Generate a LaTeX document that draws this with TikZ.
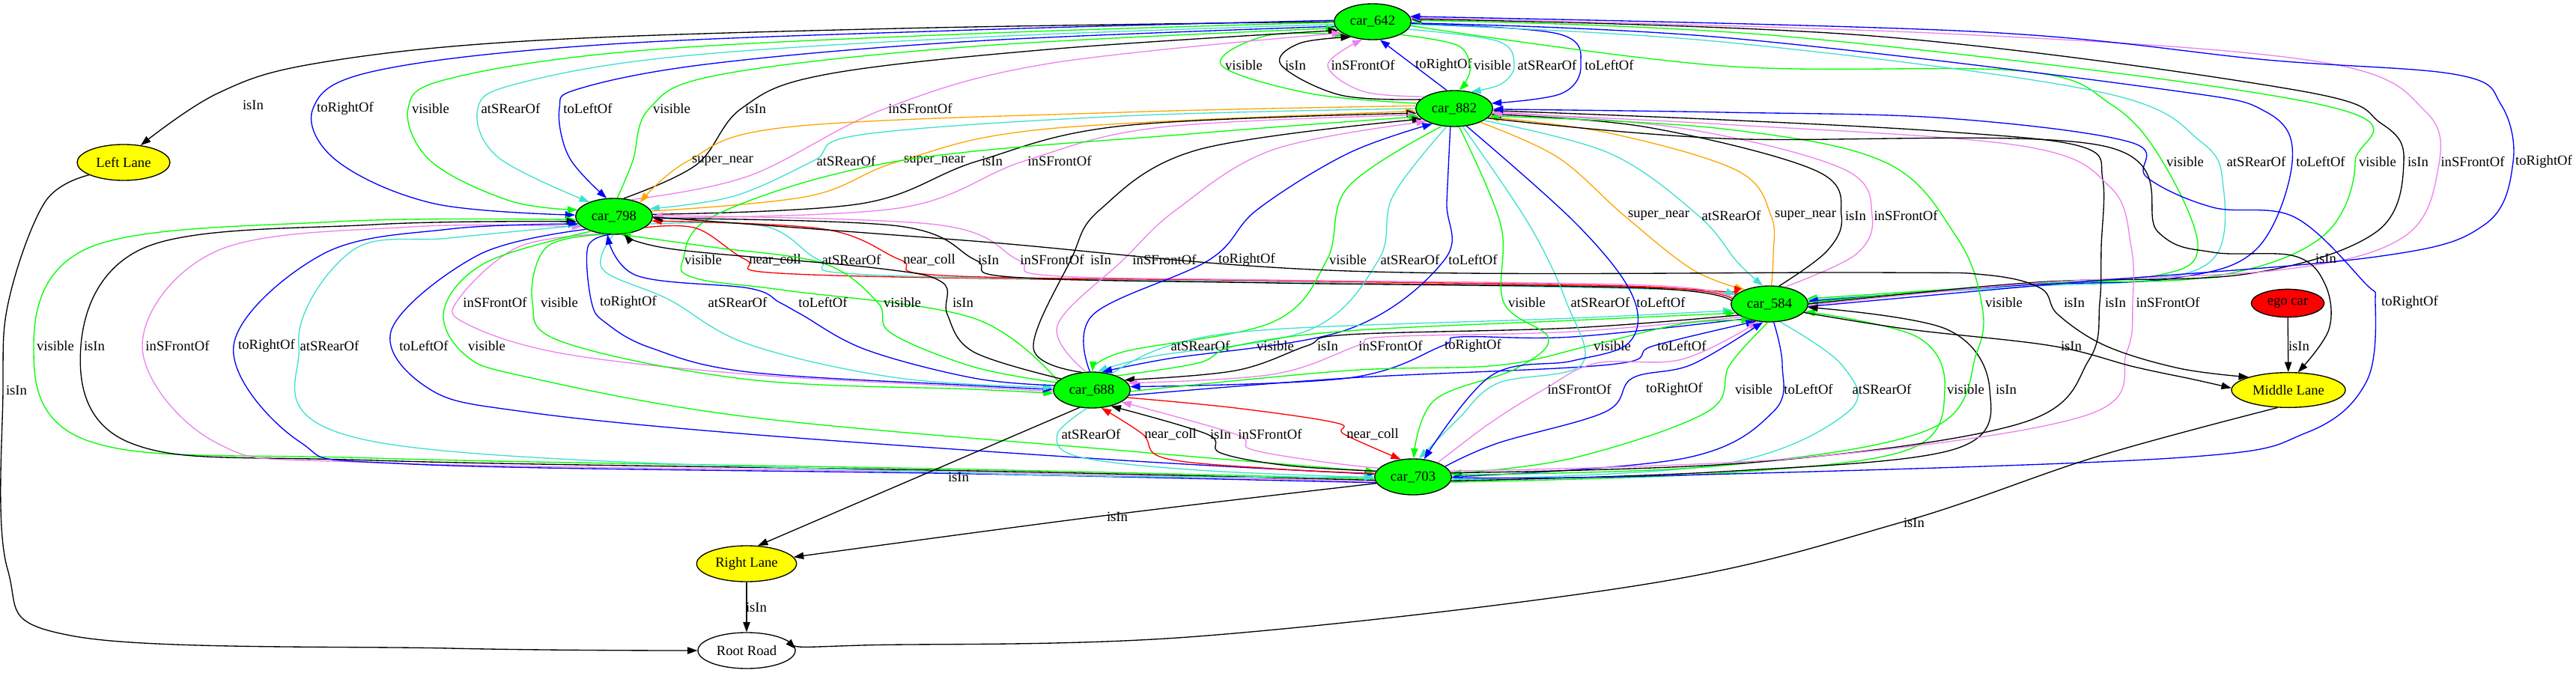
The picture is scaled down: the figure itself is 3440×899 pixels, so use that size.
\documentclass[tikz,border=0pt]{standalone}
\usepackage{fontspec}
\setmainfont{Liberation Serif}
\usetikzlibrary{shapes.geometric,arrows.meta}
\definecolor{gvgreen}{HTML}{00FF00}
\definecolor{gvturq}{HTML}{40E0D0}
\definecolor{gvviolet}{HTML}{EE82EE}
\definecolor{gvorange}{HTML}{FFA500}
\definecolor{gvblue}{HTML}{0000FF}
\definecolor{gvred}{HTML}{FF0000}
\definecolor{gvyellow}{HTML}{FFFF00}
\begin{document}
\begin{tikzpicture}[x=0.75pt,y=-0.75pt,font=\fontsize{14pt}{16pt}\selectfont,
  gnode/.style={ellipse,draw,line width=1pt,inner sep=0pt},
  car/.style={gnode,fill=gvgreen,minimum width=77pt,minimum height=36pt},
  lane/.style={gnode,fill=gvyellow,minimum height=36pt},
  lbl/.style={inner sep=0pt},
  ed/.style={line width=1pt,-{Triangle[length=10pt,width=7pt]}}]
\useasboundingbox (0,0) rectangle (3440,899);
% nodes
\node[car] (c642) at (1833,29) {car\_642};
\node[car] (c882) at (1942,145) {car\_882};
\node[car] (c798) at (820,289) {car\_798};
\node[car] (c584) at (2363,406) {car\_584};
\node[car] (c688) at (1458,521) {car\_688};
\node[car] (c703) at (1887,637) {car\_703};
\node[gnode,fill=gvred,minimum width=73pt,minimum height=28pt] (ego) at (3055,405) {ego car};
\node[lane,minimum width=114pt,minimum height=35pt] (ML) at (3056,521) {Middle Lane};
\node[lane,minimum width=93pt] (LL) at (165,217) {Left Lane};
\node[lane,minimum width=100pt] (RL) at (997,753) {Right Lane};
\node[gnode,fill=white,minimum width=97.5pt,minimum height=36pt] (RR) at (997,869) {Root Road};
% 642 -> Left Lane
\draw[ed] plot[smooth,tension=0.6] coordinates {(c642.180) (1200,38) (700,55) (420,85) (290,125) (LL.45)};
\node[lbl] (t01) at (338,140) {isIn};
% 642 <-> 882
\draw[ed,gvgreen] plot[smooth,tension=0.6] coordinates {(c882.172) (1750,125) (1631,87) (1690,48) (c642.205)};
\node[lbl] (t02) at (1661,87) {visible};
\draw[ed] plot[smooth,tension=0.6] coordinates {(c882.165) (1790,127) (1711,87) (1735,58) (c642.215)};
\node[lbl] (t03) at (1730,87) {isIn};
\draw[ed,gvviolet] plot[smooth,tension=0.6] coordinates {(c882.158) (1820,122) (1773,87) (c642.240)};
\node[lbl] (t04) at (1820,87) {inSFrontOf};
\draw[ed,gvblue] (c882.112) -- (c642.292);
\node[lbl] (t05) at (1928,87) {toRightOf};
\draw[ed,gvgreen] plot[smooth,tension=0.6] coordinates {(c642.-25) (1945,60) (1963,87) (1958,108) (c882.75)};
\node[lbl] (t06) at (1993,87) {visible};
\draw[ed,gvturq] plot[smooth,tension=0.6] coordinates {(c642.-12) (2000,55) (2022,87) (2005,112) (c882.45)};
\node[lbl] (t07) at (2066,87) {atSRearOf};
\draw[ed,gvblue] plot[smooth,tension=0.6] coordinates {(c642.-3) (2080,45) (2111,87) (2085,125) (c882.8)};
\node[lbl] (t08) at (2149,87) {toLeftOf};
% 642 <-> 798
\draw[ed,gvblue] plot[smooth,tension=0.6] coordinates {(c642.178) (1300,40) (800,60) (500,95) (418,145) (450,215) (580,272) (c798.178)};
\node[lbl] (t09) at (461,145) {toRightOf};
\draw[ed,gvgreen] plot[smooth,tension=0.6] coordinates {(c642.181) (1300,45) (850,68) (600,105) (545,145) (575,215) (680,268) (c798.170)};
\node[lbl] (t10) at (575,145) {visible};
\draw[ed,gvturq] plot[smooth,tension=0.6] coordinates {(c642.184) (1300,50) (900,76) (690,112) (638,145) (665,210) (c798.150)};
\node[lbl] (t11) at (682,145) {atSRearOf};
\draw[ed,gvblue] plot[smooth,tension=0.6] coordinates {(c642.187) (1300,55) (950,85) (775,118) (747,145) (760,210) (c798.112)};
\node[lbl] (t12) at (785,145) {toLeftOf};
\draw[ed,gvgreen] plot[smooth,tension=0.6] coordinates {(c798.80) (845,215) (867,145) (960,100) (1300,62) (c642.190)};
\node[lbl] (t13) at (897,145) {visible};
\draw[ed] plot[smooth,tension=0.6] coordinates {(c798.62) (930,220) (990,145) (1100,100) (1400,66) (c642.194)};
\node[lbl] (t14) at (1009,145) {isIn};
\draw[ed,gvviolet] plot[smooth,tension=0.6] coordinates {(c798.45) (1000,235) (1182,145) (1400,85) (c642.200)};
\node[lbl] (t15) at (1229,145) {inSFrontOf};
% 798 <-> 882
\draw[ed,gvorange] plot[smooth,tension=0.6] coordinates {(c882.176) (1500,150) (1050,170) (919,215) (c798.28)};
\node[lbl] (t16) at (965,215) {super\_near};
\draw[ed,gvturq] plot[smooth,tension=0.6] coordinates {(c882.180) (1500,155) (1150,180) (1086,215) (980,262) (c798.12)};
\node[lbl] (t17) at (1130,215) {atSRearOf};
\draw[ed,gvorange] plot[smooth,tension=0.6] coordinates {(c798.8) (1080,262) (1202,215) (1400,172) (c882.184)};
\node[lbl] (t18) at (1248,215) {super\_near};
\draw[ed] plot[smooth,tension=0.6] coordinates {(c798.3) (1150,272) (1306,215) (1500,168) (c882.187)};
\node[lbl] (t19) at (1325,215) {isIn};
\draw[ed,gvviolet] plot[smooth,tension=0.6] coordinates {(c798.-2) (1200,278) (1368,215) (1550,170) (c882.190)};
\node[lbl] (t20) at (1415,215) {inSFrontOf};
% 642 <-> 584
\draw[ed,gvgreen] plot[smooth,tension=0.6] coordinates {(c642.-6) (2300,88) (2700,95) (2820,140) (2888,216) (2935,330) (2880,368) (2700,380) (c584.8)};
\node[lbl] (t21) at (2918,216) {visible};
\draw[ed,gvturq] plot[smooth,tension=0.6] coordinates {(c642.-4) (2300,56) (2800,122) (2940,190) (2969,250) (2960,340) (2880,373) (2700,383) (c584.6)};
\node[lbl] (t22) at (3013,216) {atSRearOf};
\draw[ed,gvblue] plot[smooth,tension=0.6] coordinates {(c642.-2) (2300,50) (2880,118) (3027,150) (3061,216) (3013,333) (2900,372) (2700,381) (c584.4)};
\node[lbl] (t23) at (3099,216) {toLeftOf};
\draw[ed,gvgreen] plot[smooth,tension=0.6] coordinates {(c584.2) (2700,379) (2950,370) (3100,317) (3145,216) (3100,140) (2400,50) (c642.2)};
\node[lbl] (t24) at (3175,216) {visible};
\draw[ed] plot[smooth,tension=0.6] coordinates {(c584.0) (2720,377) (3000,366) (3173,310) (3210,216) (3180,165) (3064,120) (2500,48) (c642.4)};
\node[lbl] (t25) at (3229,216) {isIn};
\draw[ed,gvviolet] plot[smooth,tension=0.6] coordinates {(c584.-2) (2720,378) (3050,360) (3209,317) (3255,230) (3240,150) (3100,83) (2600,45) (c642.6)};
\node[lbl] (t26) at (3302,216) {inSFrontOf};
\draw[ed,gvblue] plot[smooth,tension=0.6] coordinates {(c584.-4) (2750,379) (3173,343) (3318,300) (3356,216) (3340,140) (3282,100) (3027,80) (2634,42) (c642.8)};
\node[lbl] (t27) at (3397,216) {toRightOf};
% 882 <-> 584
\draw[ed,gvorange] plot[smooth,tension=0.6] coordinates {(c882.-28) (2080,210) (2169,288) (2260,360) (c584.150)};
\node[lbl] (t28) at (2215,288) {super\_near};
\draw[ed,gvturq] plot[smooth,tension=0.6] coordinates {(c882.-22) (2150,205) (2268,288) (2320,350) (c584.110)};
\node[lbl] (t29) at (2312,288) {atSRearOf};
\draw[ed,gvorange] plot[smooth,tension=0.6] coordinates {(c584.84) (2368,340) (2365,288) (2320,228) (2150,178) (c882.-14)};
\node[lbl] (t30) at (2411,288) {super\_near};
\draw[ed] plot[smooth,tension=0.6] coordinates {(c584.62) (2440,335) (2459,288) (2425,228) (2200,170) (c882.-9)};
\node[lbl] (t31) at (2478,288) {isIn};
\draw[ed,gvviolet] plot[smooth,tension=0.6] coordinates {(c584.48) (2478,340) (2500,288) (2462,226) (2250,172) (c882.-5)};
\node[lbl] (t32) at (2545,288) {inSFrontOf};
% 688 -> 882 visible
\draw[ed,gvgreen] plot[smooth,tension=0.6] coordinates {(c688.165) (1300,425) (1050,388) (930,372) (912,347) (960,285) (1200,215) (1600,178) (c882.193)};
\node[lbl] (t33) at (939,347) {visible};
% 798 <-> 584
\draw[ed,gvred] plot[smooth,tension=0.6] coordinates {(c798.-20) (930,305) (996,347) (1060,366) (1600,376) (2200,384) (c584.168)};
\node[lbl] (t34) at (1035,347) {near\_coll};
\draw[ed,gvturq] plot[smooth,tension=0.6] coordinates {(c798.-12) (1020,302) (1093,347) (1160,367) (1700,377) (2200,386) (c584.165)};
\node[lbl] (t35) at (1137,347) {atSRearOf};
\draw[ed,gvred] plot[smooth,tension=0.6] coordinates {(c584.172) (2200,383) (1700,375) (1260,368) (1202,347) (1100,306) (c798.-7)};
\node[lbl] (t36) at (1241,347) {near\_coll};
\draw[ed] plot[smooth,tension=0.6] coordinates {(c584.175) (2200,385) (1700,378) (1350,370) (1302,347) (1200,302) (c798.-3)};
\node[lbl] (t37) at (1320,347) {isIn};
\draw[ed,gvviolet] plot[smooth,tension=0.6] coordinates {(c584.170) (2200,381) (1700,374) (1400,368) (1359,347) (1250,300) (c798.1)};
\node[lbl] (t38) at (1405,347) {inSFrontOf};
% 882 <-> 688
\draw[ed] plot[smooth,tension=0.6] coordinates {(c688.120) (1380,465) (1430,347) (1469,280) (1600,200) (c882.198)};
\node[lbl] (t39) at (1470,347) {isIn};
\draw[ed,gvviolet] plot[smooth,tension=0.6] coordinates {(c688.108) (1412,435) (1500,347) (1571,280) (1700,200) (c882.205)};
\node[lbl] (t40) at (1555,347) {inSFrontOf};
\draw[ed,gvblue] plot[smooth,tension=0.6] coordinates {(c688.96) (1460,420) (1615,347) (1679,280) (1800,205) (c882.215)};
\node[lbl] (t41) at (1665,347) {toRightOf};
\draw[ed,gvgreen] plot[smooth,tension=0.6] coordinates {(c882.235) (1800,250) (1772,347) (1700,430) (1500,470) (c688.88)};
\node[lbl] (t42) at (1800,347) {visible};
\draw[ed,gvturq] plot[smooth,tension=0.6] coordinates {(c882.247) (1860,262) (1841,347) (1750,440) (1540,476) (c688.72)};
\node[lbl] (t43) at (1883,347) {atSRearOf};
\draw[ed,gvblue] plot[smooth,tension=0.6] coordinates {(c882.258) (1932,270) (1929,347) (1800,440) (1555,480) (c688.60)};
\node[lbl] (t44) at (1967,347) {toLeftOf};
% 798 <-> 688
\draw[ed,gvviolet] plot[smooth,tension=0.6] coordinates {(c798.235) (692,330) (612,400) (622,432) (750,472) (1000,500) (1300,517) (c688.182)};
\node[lbl] (t45) at (661,404) {inSFrontOf};
\draw[ed,gvgreen] plot[smooth,tension=0.6] coordinates {(c798.245) (730,330) (711,404) (752,457) (1000,507) (1300,520) (c688.185)};
\node[lbl] (t46) at (747,404) {visible};
\draw[ed,gvblue] plot[smooth,tension=0.6] coordinates {(c798.258) (785,330) (790,404) (810,432) (870,465) (1000,497) (1300,515) (c688.179)};
\node[lbl] (t47) at (839,404) {toRightOf};
\draw[ed,gvturq] plot[smooth,tension=0.6] coordinates {(c798.268) (805,360) (893,400) (1000,460) (1200,505) (c688.176)};
\node[lbl] (t48) at (985,404) {atSRearOf};
\draw[ed,gvblue] plot[smooth,tension=0.6] coordinates {(c688.173) (1300,505) (1156,467) (1070,420) (1041,404) (1000,385) (850,368) (c798.250)};
\node[lbl] (t49) at (1099,404) {toLeftOf};
\draw[ed,gvgreen] plot[smooth,tension=0.6] coordinates {(c688.168) (1300,490) (1190,445) (1172,404) (1100,352) (950,330) (c798.290)};
\node[lbl] (t50) at (1205,404) {visible};
\draw[ed] plot[smooth,tension=0.6] coordinates {(c688.160) (1300,470) (1265,420) (1258,377) (1169,358) (900,333) (c798.300)};
\node[lbl] (t51) at (1286,404) {isIn};
% 798 <-> 703 (left loops)
\draw[ed,gvgreen] plot[smooth,tension=0.6] coordinates {(c703.183) (1300,627) (500,612) (121,590) (45,462) (121,330) (450,296) (c798.185)};
\node[lbl] (t52) at (74,462) {visible};
\draw[ed] plot[smooth,tension=0.6] coordinates {(c703.185) (1300,629) (500,615) (175,592) (108,462) (195,330) (500,300) (c798.188)};
\node[lbl] (t53) at (126,462) {isIn};
\draw[ed,gvviolet] plot[smooth,tension=0.6] coordinates {(c703.187) (1300,631) (500,618) (290,592) (190,462) (290,335) (550,303) (c798.198)};
\node[lbl] (t54) at (237,462) {inSFrontOf};
\draw[ed,gvblue] plot[smooth,tension=0.6] coordinates {(c703.189) (1300,633) (550,620) (400,590) (312,462) (430,340) (600,306) (c798.192)};
\node[lbl] (t55) at (356,462) {toRightOf};
\draw[ed,gvturq] plot[smooth,tension=0.6] coordinates {(c798.195) (600,318) (470,335) (399,462) (500,590) (1300,632) (c703.180)};
\node[lbl] (t56) at (440,462) {atSRearOf};
\draw[ed,gvblue] plot[smooth,tension=0.6] coordinates {(c798.205) (640,340) (523,440) (574,520) (700,550) (1000,580) (1500,615) (c703.176)};
\node[lbl] (t57) at (566,462) {toLeftOf};
\draw[ed,gvgreen] plot[smooth,tension=0.6] coordinates {(c798.213) (650,350) (593,413) (620,473) (701,503) (1000,557) (1500,602) (c703.172)};
\node[lbl] (t58) at (650,462) {visible};
% 688 <-> 584
\draw[ed,gvturq] plot[smooth,tension=0.6] coordinates {(c688.40) (1561,462) (1700,440) (2100,425) (c584.190)};
\node[lbl] (t59) at (1603,462) {atSRearOf};
\draw[ed,gvgreen] plot[smooth,tension=0.6] coordinates {(c688.30) (1600,485) (1650,462) (1800,442) (2100,428) (c584.195)};
\node[lbl] (t60) at (1703,462) {visible};
\draw[ed] plot[smooth,tension=0.6] coordinates {(c584.200) (2100,438) (1800,447) (1745,462) (1650,495) (c688.17)};
\node[lbl] (t61) at (1773,462) {isIn};
\draw[ed,gvviolet] plot[smooth,tension=0.6] coordinates {(c584.205) (2100,443) (1850,450) (1812,462) (1700,500) (c688.11)};
\node[lbl] (t62) at (1857,462) {inSFrontOf};
\draw[ed,gvblue] plot[smooth,tension=0.6] coordinates {(c584.212) (2100,450) (1950,450) (1926,462) (1800,505) (c688.5)};
\node[lbl] (t63) at (1967,462) {toRightOf};
\draw[ed,gvgreen] plot[smooth,tension=0.6] coordinates {(c688.-2) (1800,495) (2000,488) (2122,462) (2250,432) (c584.222)};
\node[lbl] (t64) at (2153,462) {visible};
\draw[ed,gvblue] plot[smooth,tension=0.6] coordinates {(c688.-8) (1800,505) (2150,487) (2208,462) (c584.232)};
\node[lbl] (t65) at (2246,462) {toLeftOf};
% 584 <-> 703
\draw[ed,gvviolet] plot[smooth,tension=0.6] coordinates {(c703.30) (1990,565) (2062,520) (2132,485) (2246,480) (c584.238)};
\node[lbl] (t66) at (2109,520) {inSFrontOf};
\draw[ed,gvblue] plot[smooth,tension=0.6] coordinates {(c703.18) (2000,592) (2144,550) (2180,505) (2259,487) (c584.250)};
\node[lbl] (t67) at (2236,520) {toRightOf};
\draw[ed,gvgreen] plot[smooth,tension=0.6] coordinates {(c584.265) (2310,487) (2280,550) (2100,612) (c703.5)};
\node[lbl] (t68) at (2342,520) {visible};
\draw[ed,gvblue] plot[smooth,tension=0.6] coordinates {(c584.283) (2380,487) (2368,550) (2250,612) (c703.0)};
\node[lbl] (t69) at (2415,520) {toLeftOf};
\draw[ed,gvturq] plot[smooth,tension=0.6] coordinates {(c584.300) (2460,488) (2468,550) (2300,620) (c703.-4)};
\node[lbl] (t70) at (2513,520) {atSRearOf};
\draw[ed,gvgreen] plot[smooth,tension=0.6] coordinates {(c703.-8) (2300,632) (2550,600) (2597,520) (2560,450) (c584.-12)};
\node[lbl] (t71) at (2625,520) {visible};
\draw[ed] plot[smooth,tension=0.6] coordinates {(c703.-6) (2300,630) (2610,600) (2657,520) (2600,440) (c584.-5)};
\node[lbl] (t72) at (2679,520) {isIn};
% 688 <-> 703
\draw[ed,gvturq] plot[smooth,tension=0.6] coordinates {(c688.255) (1412,580) (1440,610) (1600,628) (c703.181)};
\node[lbl] (t73) at (1457,580) {atSRearOf};
\draw[ed,gvred] plot[smooth,tension=0.6] coordinates {(c703.175) (1700,626) (1555,612) (1526,580) (c688.-62)};
\node[lbl] (t74) at (1563,580) {near\_coll};
\draw[ed] plot[smooth,tension=0.6] coordinates {(c703.171) (1720,622) (1630,605) (1612,580) (c688.-40)};
\node[lbl] (t75) at (1630,580) {isIn};
\draw[ed,gvviolet] plot[smooth,tension=0.6] coordinates {(c703.166) (1760,616) (1670,600) (1650,580) (c688.-22)};
\node[lbl] (t76) at (1696,580) {inSFrontOf};
\draw[ed,gvred] plot[smooth,tension=0.6] coordinates {(c688.-12) (1650,545) (1785,565) (1795,580) (c703.125)};
\node[lbl] (t77) at (1833,580) {near\_coll};
% 882 -> 703
\draw[ed,gvgreen] plot[smooth,tension=0.6] coordinates {(c882.-75) (2004,300) (2008,404) (2068,452) (2023,493) (1915,535) (c703.88)};
\node[lbl] (t78) at (2039,404) {visible};
\draw[ed,gvturq] plot[smooth,tension=0.6] coordinates {(c882.-65) (2042,300) (2092,404) (2112,487) (2000,512) (1947,560) (c703.72)};
\node[lbl] (t79) at (2137,404) {atSRearOf};
\draw[ed,gvblue] plot[smooth,tension=0.6] coordinates {(c882.-55) (2106,300) (2180,395) (2176,457) (2100,482) (1991,502) (c703.58)};
\node[lbl] (t80) at (2218,404) {toLeftOf};
% 703 -> 882 (right side)
\draw[ed,gvgreen] plot[smooth,tension=0.6] coordinates {(c703.3) (2300,622) (2580,572) (2640,470) (2646,404) (2613,317) (2518,217) (2300,172) (c882.-12)};
\node[lbl] (t81) at (2676,404) {visible};
\draw[ed] plot[smooth,tension=0.6] coordinates {(c703.6) (2350,617) (2700,565) (2790,480) (2804,404) (2806,330) (2808,240) (2780,196) (2600,176) (2300,160) (c882.-3)};
\node[lbl] (t82) at (2825,404) {isIn};
\draw[ed,gvviolet] plot[smooth,tension=0.6] coordinates {(c703.9) (2400,612) (2785,555) (2840,470) (2848,404) (2846,330) (2818,250) (2700,195) (2300,166) (c882.-7)};
\node[lbl] (t83) at (2895,404) {inSFrontOf};
\draw[ed,gvblue] plot[smooth,tension=0.6] coordinates {(c703.-1) (2200,636) (2900,612) (3080,578) (3160,510) (3172,404) (3158,378) (3064,290) (2955,277) (2867,237) (2845,190) (2600,158) (2300,150) (c882.-1)};
\node[lbl] (t84) at (3218,404) {toRightOf};
% lanes
\draw[ed] plot[smooth,tension=0.6] coordinates {(c798.-1) (1300,322) (1800,362) (2500,364) (2650,367) (2725,385) (2748,420) (2812,462) (2910,492) (ML.162)};
\node[lbl] (t85) at (2770,404) {isIn};
\draw[ed] plot[smooth,tension=0.6] coordinates {(c584.-14) (2550,440) (2740,462) (2850,490) (2930,507) (ML.178)};
\node[lbl] (t93) at (2766,462) {isIn};
\draw[ed] plot[smooth,tension=0.6] coordinates {(c882.-16) (2300,185) (2809,195) (2882,310) (2955,337) (3064,342) (3105,380) (3110,440) (ML.62)};
\node[lbl] (t86) at (3106,345) {isIn};
\draw[ed] (ego) -- (ML);
\node[lbl] (t87) at (3070,462) {isIn};
\draw[ed] plot[smooth,tension=0.6] coordinates {(ML.238) (2800,610) (2538,698) (2200,780) (1600,850) (1150,862) (RR.2)};
\node[lbl] (t88) at (2556,698) {isIn};
\draw[ed] plot[smooth,tension=0.6] coordinates {(LL.200) (60,270) (12,400) (4,521) (10,760) (100,850) (600,866) (RR.180)};
\node[lbl] (t89) at (22,521) {isIn};
\draw[ed] (RL) -- (RR);
\node[lbl] (t90) at (1010,811) {isIn};
\draw[ed] (c688.235) -- (RL.58);
\node[lbl] (t91) at (1280,637) {isIn};
\draw[ed] plot[smooth,tension=0.6] coordinates {(c703.190) (1465,690) (RL.8)};
\node[lbl] (t92) at (1492,690) {isIn};
\end{tikzpicture}
\end{document}
